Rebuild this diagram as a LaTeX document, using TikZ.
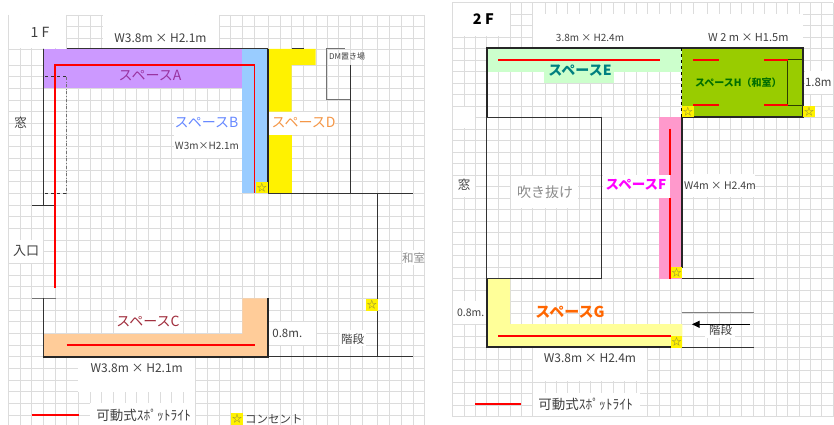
\documentclass[tikz,border=0pt]{standalone}
\usepackage{fontspec}
\setmainfont{Noto Sans CJK JP}
\usetikzlibrary{arrows.meta}
\definecolor{gridgray}{HTML}{DCDCDC}
\definecolor{wallgray}{HTML}{333333}
\definecolor{spacea}{HTML}{CC99FF}
\definecolor{spaceb}{HTML}{99CCFF}
\definecolor{spacec}{HTML}{FFCC99}
\definecolor{spacee}{HTML}{CCFFCC}
\definecolor{spacef}{HTML}{FF99CC}
\definecolor{spaceg}{HTML}{FFFF99}
\definecolor{spaceh}{HTML}{99CC00}
\definecolor{spotred}{rgb}{1,0,0}
\newcommand{\fsize}[1]{\fontsize{#1}{#1}\selectfont}
\begin{document}
\begin{tikzpicture}[x=1pt,y=-1pt]
  \tikzstyle{gridline}=[draw=gridgray,line width=0.85];
  \tikzstyle{wall}=[draw=wallgray,line width=1];
  \tikzstyle{thickwall}=[draw=black!85,line width=1.7];
  \tikzstyle{spot}=[draw=spotred,line width=1.5];
  \tikzstyle{label}=[inner sep=0,text=black!75,font=\fsize{11.5}];
  \tikzstyle{small}=[inner sep=0,text=black!75,font=\fsize{10}];
  \tikzstyle{space}=[inner sep=0,font=\fsize{14}];
  \tikzstyle{outlet}=[fill=yellow,inner sep=0,minimum size=11.6,text=black!60!yellow,font=\fsize{10}];

  \useasboundingbox (0,0) rectangle (834,425);
  \fill [white] (0,0) rectangle (834,425);

  % grid 1F
  \foreach \x in {8.3,20,31.7,43.3,55,66.7,78.3,90,101.7,113.3,125,136.7,148.3,160,171.7,183.3,195,207,219.3,230.7,242.3,254,268.3,280,291.7,303.3,316,327.3,338.3,350,362.7,377.7,389,401.7,413.3,424.5}
    \draw [gridline] (\x,15) -- (\x,425);
  \foreach \y in {15,26.7,38.3,49}
    \draw [gridline] (8.3,\y) -- (424.5,\y);
  \foreach \k in {0,...,30}
    \draw [gridline] (8.3,65+11.67*\k) -- (424.5,65+11.67*\k);

  % grid 2F
  \foreach \x in {452.3,464,475.7,486.7,498.3,510,521.7,532.7,545,556,567.3,579,590,601.7,613.3,624.3,636,647.7,659.3,670.7,681.7,693.3,707.3,719,730,741.7,753.3,764.3,776.7,787.3,799,810,821.7,833.3}
    \draw [gridline] (\x,2.7) -- (\x,416.7);
  \foreach \k in {0,...,36}
    \draw [gridline] (452.3,2.7+11.5*\k) -- (833.3,2.7+11.5*\k);

  % blank cells
  \foreach \a/\b/\c/\d in {8.8/15.5/66.2/48.5,103/15.5/219/48.5,174/112/242/158,8.8/240/43/263,117/310/180/333,78/357.5/195/392,90/403/195/425,269/322/316/345,340/330/366/346,403/250/424/265,268.5/112/335/135,
    452.8/3.2/510/36.5,532.5/14/803/47,452.8/107/475/128,452.8/176/475/197,510.5/176/578/208,683/174/755/197,805/71/833/94,452.8/301/486/324,533/348/647/381,533/393/640/416,705/325/735/338}
    \fill [white] (\a,\b) rectangle (\c,\d);

  % spaces 1F
  \fill [spacea] (43.3,49) rectangle (242.3,88.3);
  \fill [spaceb] (242.3,49) rectangle (268.3,193.3);
  \fill [yellow] (268.3,49) -- (315.7,49) -- (315.7,65) -- (291.7,65) -- (291.7,111.7) -- (268.3,111.7) -- cycle;
  \fill [yellow] (268.3,135) rectangle (291.7,193.3);
  \fill [spacec] (43.3,334) -- (242.3,334) -- (242.3,298.3) -- (268.3,298.3) -- (268.3,356.7) -- (43.3,356.7) -- cycle;

  % spaces 2F
  \fill [spacee] (486.7,48) rectangle (681.7,71.7);
  \fill [spacee] (544,71.7) rectangle (613.7,83);
  \fill [spaceh] (681.7,48) rectangle (803.3,117.3);
  \fill [spacef] (659.3,117.3) rectangle (681.7,278.5);
  \fill [spaceg] (486.7,278.5) -- (510,278.5) -- (510,324) -- (682.3,324) -- (682.3,347.3) -- (486.7,347.3) -- cycle;
  \fill [white] (602.5,175) rectangle (670,198);

  % walls 1F
  \draw [wall] (43.3,49) -- (43.3,205);
  \draw [wall] (31.7,205) -- (55,205);
  \draw [wall] (66.7,49) -- (268.3,49);
  \draw [thickwall] (268.3,49) -- (268.3,193.3);
  \draw [wall] (291.7,49) -- (304,49);
  \draw [wallgray,dashed,line width=0.7] (45,76.7) -- (66.7,76.7);
  \draw [wallgray,dashed,line width=0.7] (45,193.3) -- (66.7,193.3);
  \draw [black!55,dash dot,line width=1] (66.7,76.7) -- (66.7,193.3);
  \draw [black!55,line width=1] (350,100) -- (326.7,100) -- (326.7,49) -- (345,49);
  \draw [wall] (350,65) -- (350,193.3);
  \draw [wall] (268.3,193.3) -- (413.3,193.3);
  \draw [wall] (377.7,193.3) -- (377.7,356.7);
  \draw [wall] (268.3,356.7) -- (413.3,356.7);
  \draw [black!55,line width=1.2] (31.7,298.3) -- (55.7,298.3);
  \draw [wall] (43.3,298.3) -- (43.3,356.7);
  \draw [thickwall] (43.3,356.7) -- (268.3,356.7) -- (268.3,298.3);

  % spots 1F
  \draw [spot] (55,288) -- (55,65) -- (254.3,65) -- (254.3,193.3);
  \draw [spot] (66.7,345) -- (254.7,345);

  % walls 2F
  \draw [wall] (486.7,117.3) -- (486.7,278.5);
  \draw [wall] (486.7,117.3) -- (601.7,117.3) -- (601.7,278.5) -- (486.7,278.5);
  \draw [thickwall] (486.7,117.3) -- (486.7,48) -- (803.3,48) -- (803.3,117.3) -- (681.7,117.3);
  \draw [black,dashed,line width=1.4] (681.7,48) -- (681.7,117.3);
  \draw [thickwall] (681.7,117.3) -- (681.7,268);
  \draw [thickwall] (486.7,278.5) -- (486.7,347.3) -- (682.3,347.3);
  \draw [wall] (682,278.5) -- (753.7,278.5);
  \draw [wall] (682,347.3) -- (753.7,347.3);
  \draw [black!50,line width=1.2] (682,312.7) -- (753.7,312.7);
  \draw [black!70!spaceh,line width=1] (803,59.5) -- (787.7,59.5) -- (787.7,105.3) -- (803,105.3);

  % spots 2F
  \draw [spot] (498,60) -- (659.5,60);
  \draw [spot] (693.3,60) -- (719.3,60);
  \draw [spot] (764.3,60) -- (787.7,60);
  \draw [spot] (693.3,105) -- (719.3,105);
  \draw [spot] (764.3,105) -- (787.7,105);
  \draw [spot] (670,128.7) -- (670,175);
  \draw [spot] (670,198) -- (670,278.5);
  \draw [spot] (498,336) -- (670.7,336);

  % stairs arrow
  \coordinate (stairstart) at (749.7,324.3);
  \coordinate (stairend) at (692,324.3);
  \draw [-{Triangle[length=7.5,width=7]},line width=0.9] (stairstart) -- (stairend);

  % outlets
  \node[outlet] (outletb) at (261.8,187.5) {☆};
  \node[outlet] (outletw) at (371.8,304.8) {☆};
  \node[outlet] (outletlegone) at (237,419.2) {☆};
  \node[outlet] (outleth) at (687.8,111.5) {☆};
  \node[outlet] (outlethr) at (809.2,111.5) {☆};
  \node[outlet] (outletf) at (676.5,272.5) {☆};
  \node[outlet] (outletg) at (676.5,341.7) {☆};

  % legends
  \coordinate (legonestart) at (31.7,415);
  \coordinate (legoneend) at (78.7,415);
  \draw [spot] (legonestart) -- (legoneend);
  \coordinate (legtwostart) at (475.3,404);
  \coordinate (legtwoend) at (521.3,404);
  \draw [spot] (legtwostart) -- (legtwoend);
  \node[label,font=\fsize{13.5}] (legonetext) at (143.5,415) {可動式ｽﾎﾟｯﾄﾗｲﾄ};
  \node[label,font=\fsize{13.5}] (legtwotext) at (585.5,404) {可動式ｽﾎﾟｯﾄﾗｲﾄ};
  \node[label,anchor=west] (outlettext) at (245,419.2) {コンセント};

  % labels 1F
  \node[label,font=\fsize{14}] (floorone) at (40,32) {1 F};
  \node[label,font=\fsize{12}] (sizea) at (160.5,38) {W3.8m × H2.1m};
  \node[space,text={rgb,255:red,153;green,51;blue,160}] (namea) at (150,76) {スペースA};
  \node[label,font=\fsize{12.5}] (winone) at (20.7,122.7) {窓};
  \node[space,text={rgb,255:red,102;green,136;blue,255}] (nameb) at (206.5,123) {スペースB};
  \node[small] (sizeb) at (207,146) {W3m×H2.1m};
  \node[space,text={rgb,255:red,244;green,150;blue,70}] (named) at (303.5,123) {スペースD};
  \node[small,font=\fsize{8}] (dmplace) at (347,57) {DM置き場};
  \node[label,font=\fsize{13}] (entry) at (26,251) {入口};
  \node[space,text={rgb,255:red,160;green,45;blue,60}] (namec) at (148,321.7) {スペースC};
  \node[label,font=\fsize{12}] (sizec) at (136.7,368) {W3.8m × H2.1m};
  \node[label] (widthc) at (287.3,333.3) {0.8m.};
  \node[label] (stairone) at (352.7,339.3) {階段};
  \node[label,text=black!45] (washitsu) at (413.5,257.7) {和室};

  % labels 2F
  \node[label,font=\bfseries\fsize{14.5},text=black] (floortwo) at (483.3,19.3) {2 F};
  \node[small] (sizee) at (590,37.7) {3.8m × H2.4m};
  \node[label,font=\fsize{11}] (sizeh) at (748.3,37.7) {W 2 m × H1.5m};
  \node[space,font=\bfseries\fsize{14},text={rgb,255:red,0;green,128;blue,128}] (namee) at (580,70.7) {スペースE};
  \node[inner sep=0,font=\bfseries\fsize{10},text={rgb,255:red,0;green,110;blue,0}] (nameh) at (738.3,82.3) {スペースH（和室）};
  \node[label] (depthh) at (818.3,82.7) {1.8m};
  \node[label,font=\fsize{12.5}] (wintwo) at (464,185) {窓};
  \node[label,font=\fsize{14},text=black!45] (void) at (545,191.7) {吹き抜け};
  \node[space,font=\bfseries\fsize{13.5},text={rgb,255:red,255;green,0;blue,255}] (namef) at (636,185) {スペースF};
  \node[label,font=\fsize{10.5}] (sizef) at (720,185.7) {W4m × H2.4m};
  \node[space,font=\bfseries\fsize{15},text={rgb,255:red,255;green,102;blue,0}] (nameg) at (570,312.3) {スペースG};
  \node[label,font=\fsize{10.5}] (widthg) at (470.7,312.7) {0.8m.};
  \node[label] (stairtwo) at (720.7,330) {階段};
  \node[label,font=\fsize{12}] (sizeg) at (590,357.7) {W3.8m × H2.4m};
\end{tikzpicture}
\end{document}
